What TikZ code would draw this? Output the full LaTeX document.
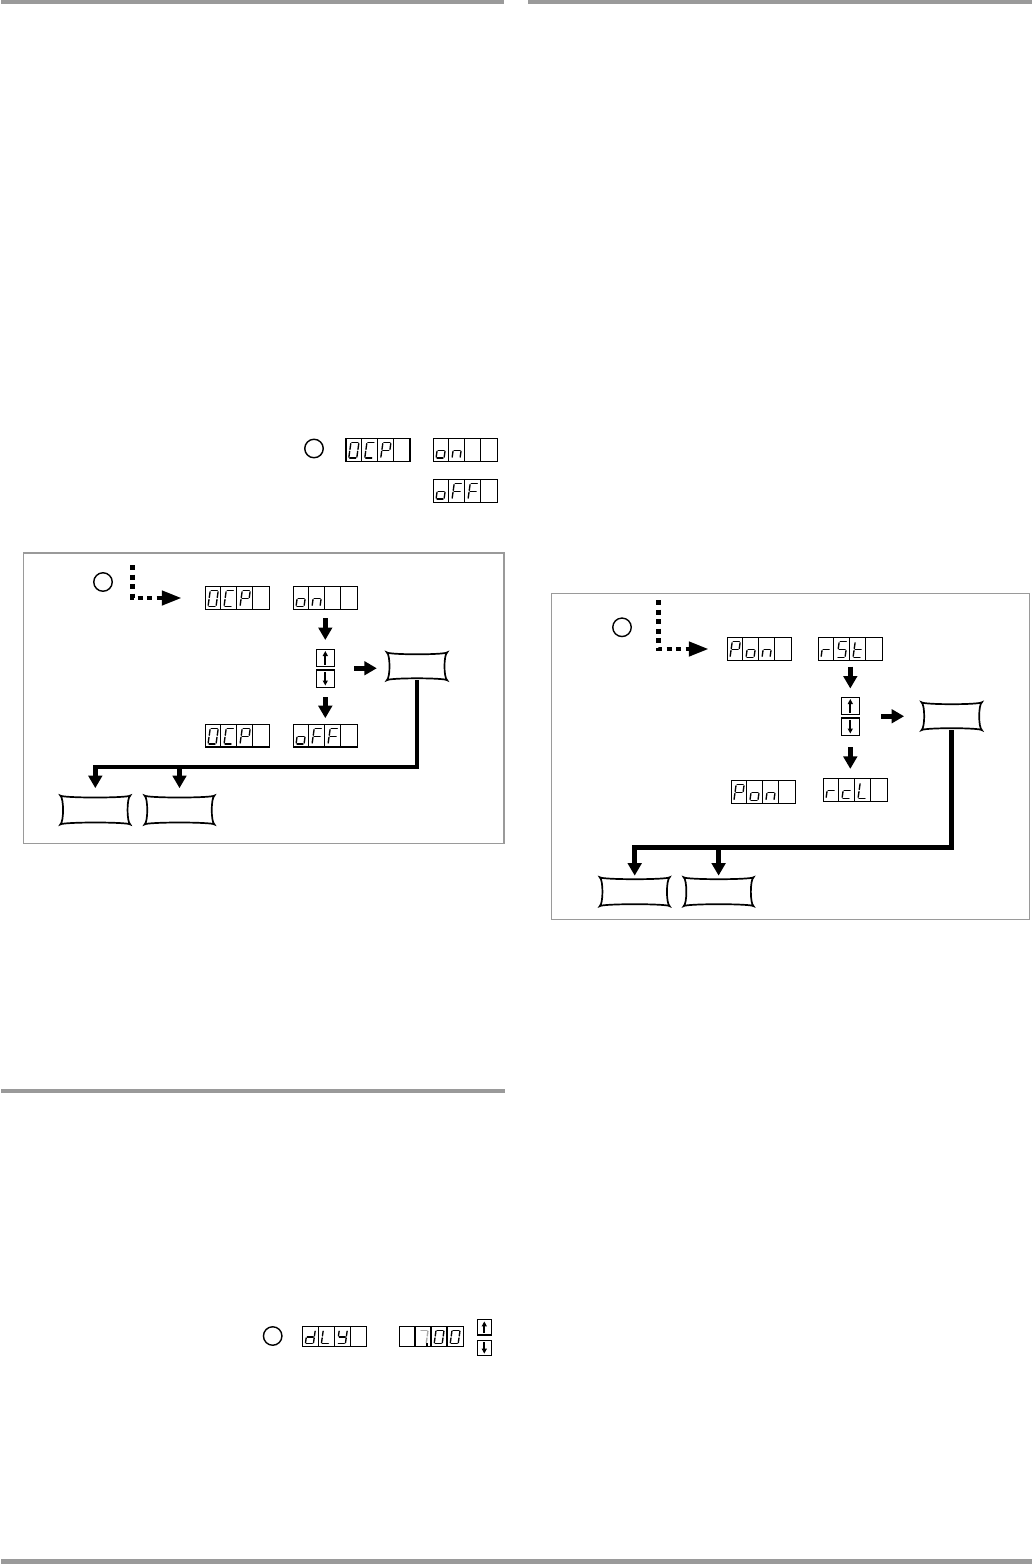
\documentclass[tikz,border=0pt]{standalone}
\usetikzlibrary{arrows.meta,positioning,calc}
\definecolor{rulegray}{HTML}{9A9A9A}
\definecolor{dimgray}{HTML}{A8A8A8}

\tikzset{
  disp/.style={draw, line width=1.1pt, minimum width=64pt, minimum height=22.5pt, inner sep=0pt},
  celldiv/.style={line width=1.1pt},
  seg/.style={line width=1.35pt, line cap=round, shorten <=1pt, shorten >=1pt},
  lamp/.style={circle, draw, line width=1.4pt, minimum size=18.5pt, inner sep=0pt},
  keysq/.style={draw, line width=1.1pt, minimum size=17.5pt, inner sep=0pt},
  keybtn/.style={minimum width=60pt, minimum height=27.5pt, inner sep=0pt},
  widebtn/.style={keybtn, minimum width=69.5pt, minimum height=28.5pt},
  pillow/.style={line width=1.7pt},
  fatarrow/.style={line width=4.8pt, -{Triangle[width=13.5pt, length=12.5pt]}},
  dotflow/.style={line width=4.5pt, dash pattern=on 5pt off 4.5pt, -{Triangle[width=14pt, length=20pt]}},
  keyarrow/.style={line width=1.9pt, -{Triangle[width=5pt, length=5pt]}},
  panel/.style={draw=rulegray, line width=1.2pt},
}

% seven segment strokes, in a 16 x 22.5 cell
\def\sega{(2.8,19)--(10.8,19)}
\def\segb{(10.8,19)--(10.8,11.25)}
\def\segc{(10.8,11.25)--(10.8,3.5)}
\def\segd{(2.8,3.5)--(10.8,3.5)}
\def\sege{(2.8,3.5)--(2.8,11.25)}
\def\segf{(2.8,11.25)--(2.8,19)}
\def\segg{(2.8,11.25)--(10.8,11.25)}
\def\segz{(0,0)}
\def\glyphscale{1}

\def\lcdO{a,b,c,d,e,f}
\def\lcdC{a,d,e,f}
\def\lcdP{a,b,e,f,g}
\def\lcdo{c,d,e,g}
\def\lcdn{c,e,g}
\def\lcdF{a,e,f,g}
\def\lcdr{e,g}
\def\lcdS{a,c,d,f,g}
\def\lcdt{d,e,f,g}
\def\lcdc{d,e,g}
\def\lcdL{d,e,f}
\def\lcdd{b,c,d,e,g}
\def\lcdY{b,c,d,f,g}
\def\lcdseven{a,b,c}
\def\lcdblank{z}

\newcommand\lcdglyph[4][black]{%
  \edef\seglist{#4}%
  \begin{scope}[shift={([xshift=#3*16pt]#2.south west)}, x=1pt, y=\glyphscale pt, xslant=0.14]
    \foreach \s in \seglist {\edef\segpath{\csname seg\s\endcsname}\draw[seg, draw=#1] \segpath;}
  \end{scope}}

\newcommand\dispbox[3]{%
  \node[disp] (#1) at (#2) {};
  \foreach \i in {1,2,3}
    \draw[celldiv] ([xshift=\i*16pt]#1.north west) -- ([xshift=\i*16pt]#1.south west);
  \foreach \g [count=\k from 0] in {#3} {\lcdglyph{#1}{\k}{\g}}}

\newcommand\keypair[3][2.3pt]{%
  \node[keysq] (#2up) at (#3) {};
  \node[keysq, below=#1 of #2up] (#2dn) {};
  \draw[keyarrow] ([yshift=2.5pt]#2up.south) -- ([yshift=-2.5pt]#2up.north);
  \draw[keyarrow] ([yshift=-2.5pt]#2dn.north) -- ([yshift=2.5pt]#2dn.south);
  \coordinate (#2) at ($(#2up.south)!0.5!(#2dn.north)$);}

\newcommand\pillow[1]{%
  \draw[pillow] (#1.north west)
    .. controls ([xshift=2.5pt, yshift=-2.6pt]#1.north west) and ([xshift=-2.5pt, yshift=-2.6pt]#1.north east) .. (#1.north east)
    .. controls ([xshift=-3.6pt, yshift=-2.5pt]#1.north east) and ([xshift=-3.6pt, yshift=2.5pt]#1.south east) .. (#1.south east)
    .. controls ([xshift=-2.5pt, yshift=2.6pt]#1.south east) and ([xshift=2.5pt, yshift=2.6pt]#1.south west) .. (#1.south west)
    .. controls ([xshift=3.6pt, yshift=2.5pt]#1.south west) and ([xshift=3.6pt, yshift=-2.5pt]#1.north west) .. (#1.north west) -- cycle;}

\begin{document}
\begin{tikzpicture}[x=1pt, y=-1pt]
\useasboundingbox (0,0) rectangle (1032,1564);

\fill[rulegray] (1.3,0) rectangle (504,4.2);
\fill[rulegray] (528,0) rectangle (1032,4.2);
\fill[rulegray] (1,1089) rectangle (505,1093.3);
\fill[rulegray] (1,1559) rectangle (1032,1564);

%%%%%%%%%%%%%%%%%%%%%%%%%%%%%%%%%%%%%%%%

\node[lamp] (lampA) at (314,448.5) {};
\dispbox{ocpA}{378,449.8}{\lcdO,\lcdC,\lcdP}
\dispbox{onA}{465.3,449.8}{\lcdo,\lcdn}
\dispbox{offA}{465.3,490.8}{\lcdo,\lcdF,\lcdF}

%%%%%%%%%%%%%%%%%%%%%%%%%%%%%%%%%%%%%%%%

\draw[panel] (23.3,553) rectangle (504,843.3);
\node[lamp] (lampB) at (103,582) {};
\coordinate (dotsB) at (132.7,565);
\dispbox{ocpB}{237.3,598}{\lcdO,\lcdC,\lcdP}
\dispbox{onB}{325.3,598}{\lcdo,\lcdn}
\keypair{keysB}{325.3,657.8}
\node[keybtn] (enterB) at (417,666.3) {}; \pillow{enterB}
\dispbox{ocpC}{237.3,735.7}{\lcdO,\lcdC,\lcdP}
\dispbox{offB}{325.3,735.7}{\lcdo,\lcdF,\lcdF}
\node[widebtn] (escB) at (95.3,810) {}; \pillow{escB}
\node[widebtn, right=14.3pt of escB] (saveB) {}; \pillow{saveB}

\draw[dotflow, shorten >=23pt] (dotsB) |- (ocpB);
\draw[fatarrow, shorten <=8.5pt, shorten >=8.5pt] (onB) -- (keysBup);
\draw[fatarrow, shorten <=29pt, shorten >=10pt] (keysB) -- (keysB -| enterB.west);
\draw[fatarrow, shorten <=9pt, shorten >=5.7pt] (keysBdn) -- (offB);
\coordinate (bendB) at ($(enterB.south)+(0,86.7)$);
\draw[fatarrow, shorten >=7.4pt] (enterB.south) -- (bendB) -| (escB.north);
\draw[fatarrow, shorten >=7.4pt] (bendB -| saveB.north) -- (saveB.north);

%%%%%%%%%%%%%%%%%%%%%%%%%%%%%%%%%%%%%%%%

\draw[panel] (551.7,593.3) rectangle (1029.5,919.3);
\node[lamp] (lampR) at (622,627.3) {};
\coordinate (dotsR) at (658.7,600);
\dispbox{ponA}{759.3,649}{\lcdP,\lcdo,\lcdn}
\dispbox{rstA}{850.3,649}{\lcdr,\lcdS,\lcdt}
\keypair{keysR}{850.3,705.8}
\node[keybtn] (enterR) at (951.7,716.2) {}; \pillow{enterR}
\dispbox{ponB}{763.2,792}{\lcdP,\lcdo,\lcdn}
\dispbox{rclA}{855.3,790}{\lcdr,\lcdc,\lcdL}
\node[widebtn] (escR) at (634.7,891.7) {}; \pillow{escR}
\node[widebtn, right=14pt of escR] (saveR) {}; \pillow{saveR}

\draw[dotflow, shorten >=18pt] (dotsR) |- (ponA);
\draw[fatarrow, shorten <=5.7pt, shorten >=8pt] (rstA) -- (keysRup);
\draw[fatarrow, shorten <=31pt, shorten >=17.4pt] (keysR) -- (keysR -| enterR.west);
\draw[fatarrow, shorten <=11.4pt, shorten >=9.3pt] (keysRdn) -- (keysRdn |- rclA.north);
\coordinate (bendR) at ($(enterR.south)+(0,117.3)$);
\draw[fatarrow, shorten >=1.6pt] (enterR.south) -- (bendR) -| (escR.north);
\draw[fatarrow, shorten >=1.6pt] (bendR -| saveR.north) -- (saveR.north);

%%%%%%%%%%%%%%%%%%%%%%%%%%%%%%%%%%%%%%%%

\begin{scope}[disp/.append style={minimum height=19.5pt},
  keysq/.append style={minimum width=13.5pt, minimum height=15.5pt}]
\def\glyphscale{0.87}
\node[lamp] (lampD) at (272.7,1336) {};
\dispbox{dlyA}{334.7,1336.4}{\lcdd,\lcdL,\lcdY}
\dispbox{valA}{431.5,1336.4}{\lcdblank}
\lcdglyph[dimgray]{valA}{1}{\lcdseven}
\lcdglyph{valA}{2}{\lcdO}
\lcdglyph{valA}{3}{\lcdO}
\fill ($(valA.south west)+(27,-1.2)$) rectangle ++(2.4,-2.4);
\keypair[4pt]{keysD}{484.3,1327.2}
\end{scope}

\end{tikzpicture}
\end{document}
